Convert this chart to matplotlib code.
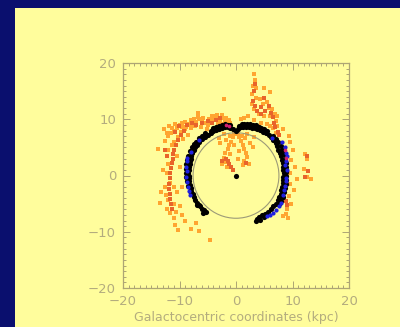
import matplotlib
matplotlib.use("Agg")
import matplotlib.pyplot as plt
from matplotlib.patches import Rectangle, Circle
from matplotlib.ticker import MultipleLocator

# ---------------- data (kpc) ----------------
x_ticks = [-20, -10, 0, 10, 20]
y_ticks = [-20, -10, 0, 10, 20]
x_label = "Galactocentric coordinates (kpc)"
solar_circle_radius = 7.6

black_pts = [
    (-5.3, -6.5), (-5.6, -6.2), (-6.0, -6.0), (-6.3, -5.5), (-6.6, -5.3), (-6.9, -4.8),
    (-7.2, -4.3), (-7.4, -3.8), (-7.6, -3.3), (-7.9, -2.8), (-8.0, -2.2), (-8.1, -1.6),
    (-8.3, -1.0), (-8.3, -0.5), (-8.4, 0.0), (-8.5, 0.5), (-8.3, 1.0), (-8.4, 1.5),
    (-8.2, 2.0), (-8.2, 2.5), (-8.0, 3.0), (-7.9, 3.5), (-7.7, 4.0), (-7.4, 4.5),
    (-7.2, 5.0), (-6.9, 5.5), (-6.5, 6.0), (-6.0, 6.5), (-5.5, 6.9), (-5.0, 7.2),
    (-4.5, 7.6), (-4.0, 7.9), (-3.5, 8.1), (-3.0, 8.3), (-2.5, 8.5), (-2.0, 8.6),
    (-1.5, 8.6), (-1.0, 8.5), (-0.5, 8.2), (0.0, 7.9), (0.4, 8.3), (0.8, 8.6),
    (1.3, 8.7), (1.8, 8.6), (2.3, 8.6), (2.8, 8.5), (3.3, 8.4), (3.8, 8.3),
    (4.3, 8.1), (4.8, 7.8), (5.3, 7.5), (5.8, 7.2), (6.2, 6.8), (6.6, 6.3),
    (7.0, 5.8), (7.3, 5.2), (7.5, 4.6), (7.8, 4.0), (8.0, 3.4), (8.1, 2.8),
    (8.3, 2.2), (8.3, 1.6), (8.4, 1.0), (8.5, 0.4), (8.4, -0.2), (8.4, -0.8),
    (8.3, -1.4), (8.2, -2.0), (8.0, -2.6), (7.9, -3.2), (7.6, -3.8), (7.4, -4.4),
    (7.0, -5.0), (6.6, -5.5), (6.2, -6.0), (5.7, -6.4), (5.2, -6.8), (4.6, -7.1),
    (4.1, -7.4), (3.7, -7.7), (3.6, -8.0),
    (-4.5, 8.0), (-3.5, 8.6), (-2.5, 9.0), (-1.5, 9.0), (1.0, 9.1), (2.0, 9.1),
    (3.0, 9.0), (4.0, 8.7), (5.0, 8.2), (-6.0, 7.0), (-7.0, 6.0), (-7.7, 5.0),
    (-8.5, 3.5), (-8.8, 2.0), (-8.9, 0.5), (-8.7, -1.0), (6.6, 7.0), (7.5, 6.0),
    (8.2, 4.5), (8.7, 3.0), (8.9, 1.5), (8.9, 0.0), (8.8, -1.5), (8.5, -3.0),
    (8.0, -4.5),
    (-4.0, 8.4), (-3.0, 8.8), (-2.0, 9.1), (-1.0, 8.9), (0.5, 8.8), (1.5, 9.2),
    (2.5, 9.1), (3.5, 8.9), (4.5, 8.5), (5.5, 7.9), (-5.5, 7.5), (-6.5, 6.6),
    (-7.4, 5.6), (-8.1, 4.3), (-8.6, 2.8), (-8.8, 1.2), (-8.8, -0.3), (-8.5, -1.8),
    (-8.2, -2.8), (-6.9, -5.3), (-5.8, -6.6), (7.1, 6.5), (7.9, 5.2), (8.5, 3.8),
    (8.8, 2.3), (8.9, 0.7), (8.9, -0.8), (8.7, -2.3), (8.3, -3.8), (7.6, -5.0),
    (5.0, -7.4), (4.2, -7.9), (0.0, 0.0),
]

blue_pts = [
    (-8.6, 3.2), (-8.7, 2.6), (-8.8, 1.5), (-8.6, 0.8), (-8.8, -0.2), (-8.6, -1.2),
    (-8.5, -2.0), (-8.4, -2.8), (-7.9, 4.1), (-8.2, -3.4), (-6.6, 6.3),
    (8.2, 6.0), (8.6, 5.0), (8.8, 4.0), (9.0, 3.5), (8.9, 2.5), (8.6, 1.8),
    (9.1, 0.9), (8.8, -0.5), (8.7, -1.8), (8.5, -2.5), (8.3, -3.5), (8.0, -4.8),
    (7.6, -5.5), (7.1, -6.1), (6.6, -6.6), (6.0, -7.0), (5.4, -7.2), (8.9, -1.0),
    (6.4, 6.6),
]

magenta_pts = [(-1.8, 8.9), (-1.2, 8.8), (8.9, 3.2), (8.6, 4.5)]

orange_pts = [
    (-10.5, 8.5), (-10.0, 9.0), (-9.5, 9.3), (-9.0, 9.6), (-8.5, 9.2), (-8.0, 9.8),
    (-7.5, 10.0), (-7.0, 9.5), (-6.5, 10.1), (-6.0, 9.7), (-5.5, 9.3), (-5.0, 9.0),
    (-4.5, 9.6), (-4.0, 10.2), (-3.5, 10.5), (-3.0, 10.0), (-2.5, 10.3), (-2.0, 9.8),
    (-1.5, 9.6), (-1.0, 9.3), (-3.2, 9.4), (-2.2, 9.2), (-11.5, 7.6), (-11.0, 8.0),
    (-12.0, 7.0), (-12.5, 6.2), (-9.8, 7.8), (-9.0, 8.3), (-8.0, 8.5), (-7.2, 8.8),
    (-6.2, 8.6), (-5.2, 8.2), (-12.8, 8.2), (-11.8, 8.8), (-6.7, 11.2), (-2.2, 13.6),
    (-8.5, 7.2), (-9.3, 6.5), (-10.3, 6.8), (-11.0, 6.0), (-13.8, 4.7),
    (-3.8, 9.9), (-3.3, 10.8), (-2.8, 9.6), (-2.4, 10.7), (-1.8, 10.2), (-1.2, 9.9),
    (-4.3, 10.6), (-4.8, 10.0), (-5.8, 10.3), (-6.8, 10.4), (-7.8, 9.0), (-8.8, 8.7),
    (-9.6, 8.6), (-10.8, 9.2), (-11.3, 8.4), (-12.3, 7.6),
    (0.0, 7.3), (-0.5, 6.8), (0.5, 6.8), (-0.8, 6.0), (0.8, 6.2), (-1.2, 5.5),
    (1.2, 5.5), (-1.5, 4.8), (1.5, 4.8), (-2.0, 4.0), (1.8, 4.0), (-2.2, 3.2),
    (2.0, 3.3), (-2.0, 2.4), (1.5, 2.5), (-2.5, 2.0), (1.2, 1.8), (2.3, 2.1),
    (-1.0, 3.8), (0.5, 4.3), (-2.8, 5.8), (2.5, 5.8), (3.0, 5.0), (-3.0, 6.7),
    (3.2, 6.8), (-0.3, 5.5), (0.3, 3.0), (-1.6, 1.5),
    (-0.3, 7.6), (0.3, 7.6), (-1.0, 7.0), (1.0, 7.1), (-1.8, 6.4), (1.6, 6.6),
    (2.0, 7.4), (-2.2, 7.3),
    (3.1, 18.0), (3.4, 17.0), (3.0, 16.0), (3.6, 15.6), (2.9, 14.5), (3.5, 13.8),
    (2.8, 12.8), (3.1, 11.8), (4.3, 13.6), (4.8, 12.8), (5.5, 13.0), (6.1, 14.8),
    (5.8, 12.0), (6.4, 11.8), (6.9, 11.0), (7.2, 10.6), (7.0, 9.7), (7.2, 8.8),
    (6.6, 8.4), (7.0, 7.5), (6.1, 10.6), (4.9, 10.6), (4.0, 10.9), (3.2, 9.9),
    (4.5, 9.4), (5.5, 9.2), (6.0, 8.8), (8.4, 8.2), (9.3, 7.0), (5.0, 15.5),
    (1.5, 10.2), (0.8, 10.0), (2.2, 10.5),
    (12.3, 3.8), (12.6, 2.9), (12.0, 1.1), (13.2, -0.7), (12.5, -0.2), (10.8, -0.7),
    (9.6, 0.5), (10.2, -2.5), (9.3, -3.7), (9.0, -6.0), (8.4, -7.2), (9.5, -1.5),
    (10.5, 1.5), (9.8, -5.0), (9.2, -7.5), (8.8, -6.8), (9.5, 6.0), (10.0, 4.5),
    (9.8, 2.8),
    (-11.1, 2.9), (-11.7, -1.3), (-12.0, -4.3), (-11.7, -6.6), (-13.5, -4.9),
    (-10.2, -9.6), (-4.6, -11.4), (-7.0, -8.4), (-12.5, -2.0), (-10.5, -3.0),
    (-10.0, -5.5), (-9.5, -7.0), (-11.0, -7.5), (-12.2, -6.0), (-9.0, -8.0),
    (-8.0, -9.5), (-13.0, 1.0), (-12.0, 2.0), (-10.0, 1.5), (-9.5, -2.0),
    (-6.5, -9.8), (-13.2, -3.0), (-10.8, -8.8),
    (-12.2, 0.5), (-11.0, -2.0), (-12.4, -3.5), (-11.0, -5.0), (-10.6, -6.4),
    (-12.0, 4.5), (-11.4, 5.4), (-10.4, 3.5),
]

red_pts = [
    (-9.2, 8.0), (-9.8, 7.2), (-10.3, 6.3), (-10.6, 5.5), (-10.9, 4.6), (-11.1, 3.8),
    (-11.2, 3.0), (-11.4, 2.2), (-11.5, 1.3), (-11.6, 0.4), (-11.7, -0.5), (-11.8, -1.5),
    (-11.8, -2.4), (-11.7, -3.3), (-11.6, -4.2), (-11.5, -5.1), (-11.3, -6.0),
    (-8.6, 8.9), (-7.8, 9.3), (-7.0, 9.0), (-6.0, 9.3), (-5.0, 9.7), (-4.2, 9.3),
    (-3.6, 9.8), (-2.9, 10.2), (-10.1, 8.8), (-10.8, 7.8), (-12.6, 4.5), (-12.2, 3.5),
    (-1.8, 3.0), (-2.4, 2.6), (-1.2, 2.0), (-0.8, 1.5), (-0.5, 1.0), (-1.5, 2.5),
    (1.8, 2.2),
    (3.3, 16.3), (3.2, 15.0), (3.0, 13.3), (3.3, 12.4), (3.8, 11.5), (4.4, 11.0),
    (5.2, 11.5), (5.8, 12.4), (6.2, 11.2), (6.6, 10.4), (6.8, 9.4), (5.0, 13.8),
    (4.4, 12.2), (6.9, 8.6), (7.4, 7.8), (7.6, 7.2),
    (12.5, 3.4), (12.8, 0.8), (12.3, -0.3), (8.8, -4.5), (9.0, -5.3),
]

# ---------------- styling ----------------
NAVY = "#0A0F6E"
YELLOW = "#FFFD9C"
AXCOL = "#ADA574"
TXTCOL = "#B3AC7E"

fig = plt.figure(figsize=(4.0, 3.27), dpi=100)
fig.patch.set_facecolor(NAVY)
fig.patches.append(Rectangle((15 / 400, 0), 1, 1 - 8 / 327, transform=fig.transFigure,
                             facecolor=YELLOW, edgecolor="none", zorder=-5))

ax = fig.add_axes([123 / 400, 1 - 288 / 327, 226 / 400, 225 / 327])
ax.set_zorder(2)
ax.set_facecolor(YELLOW)
ax.set_xlim(-20, 20)
ax.set_ylim(-20, 20)


def unzip(pts):
    return [p[0] for p in pts], [p[1] for p in pts]


ox, oy = unzip(orange_pts)
ax.scatter(ox, oy, s=6, marker="s", color="#FFA530", linewidths=0, zorder=2)
rx, ry = unzip(red_pts)
ax.scatter(rx, ry, s=6, marker="s", color="#E8642A", linewidths=0, zorder=3)
ax.add_patch(Circle((0, 0), solar_circle_radius, fill=False, edgecolor="#9C9A78",
                    linewidth=0.8, zorder=4))
bx, by = unzip(black_pts)
ax.scatter(bx, by, s=14, marker="o", color="black", linewidths=0, zorder=5)
ux, uy = unzip(blue_pts)
ax.scatter(ux, uy, s=9, marker="o", color="#2020E0", linewidths=0, zorder=6)
mx, my = unzip(magenta_pts)
ax.scatter(mx, my, s=7, marker="o", color="#D02070", linewidths=0, zorder=6)

for sp in ax.spines.values():
    sp.set_color(AXCOL)
    sp.set_linewidth(0.9)

ax.set_xticks(x_ticks)
ax.set_yticks(y_ticks)
ax.set_xticklabels([str(v).replace("-", "\u2212") for v in x_ticks])
ax.set_yticklabels([str(v).replace("-", "\u2212") for v in y_ticks])
ax.xaxis.set_minor_locator(MultipleLocator(1))
ax.yaxis.set_minor_locator(MultipleLocator(1))
ax.tick_params(which="both", direction="in", top=True, right=True, color=AXCOL,
               labelcolor=TXTCOL, labelsize=9.5, width=0.7)
ax.tick_params(which="major", length=5, pad=5)
ax.tick_params(which="minor", length=2.5)
ax.set_xlabel(x_label, color=TXTCOL, fontsize=9, labelpad=2)

fig.savefig("out.png", dpi=100, facecolor=fig.get_facecolor())
